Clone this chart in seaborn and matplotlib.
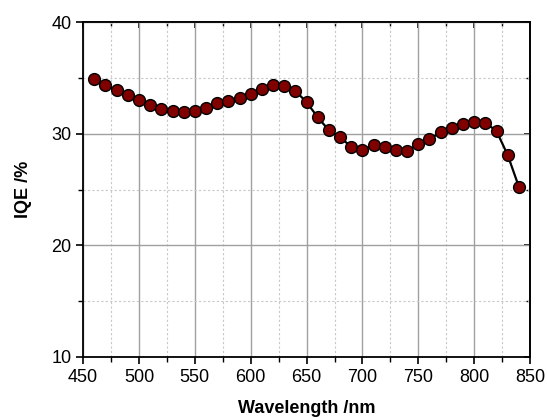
import matplotlib
matplotlib.use("Agg")
import matplotlib.pyplot as plt
import seaborn as sns
import pandas as pd
from matplotlib.ticker import MultipleLocator, NullFormatter

wavelength = [460, 470, 480, 490, 500, 510, 520, 530, 540, 550, 560, 570, 580, 590,
              600, 610, 620, 630, 640, 650, 660, 670, 680, 690, 700, 710, 720, 730,
              740, 750, 760, 770, 780, 790, 800, 810, 820, 830, 840]
iqe = [34.87, 34.33, 33.91, 33.5, 32.99, 32.54, 32.21, 32.03, 31.94, 32.03, 32.27,
       32.75, 32.9, 33.17, 33.55, 33.97, 34.33, 34.3, 33.85, 32.82, 31.48, 30.3,
       29.67, 28.84, 28.54, 29.02, 28.84, 28.54, 28.48, 29.05, 29.52, 30.12, 30.54,
       30.84, 31.08, 30.99, 30.24, 28.09, 25.25]

sns.set_style("white")
plt.rcParams['font.family'] = ['Liberation Sans', 'DejaVu Sans']
plt.rcParams['text.color'] = 'black'
plt.rcParams['axes.labelcolor'] = 'black'

df = pd.DataFrame({"Wavelength": wavelength, "IQE": iqe})

fig = plt.figure(figsize=(5.47, 4.18), dpi=100)
ax = fig.add_axes([0.152, 0.146, 0.817, 0.801])

sns.lineplot(data=df, x="Wavelength", y="IQE", ax=ax, color="black", linewidth=1.6,
             marker="o", markersize=8.5, markerfacecolor="#800000",
             markeredgecolor="black", markeredgewidth=1.0, zorder=3)

ax.set_xlim(450, 850)
ax.set_ylim(10, 40)
ax.xaxis.set_major_locator(MultipleLocator(50))
ax.xaxis.set_minor_locator(MultipleLocator(25))
ax.yaxis.set_major_locator(MultipleLocator(10))
ax.yaxis.set_minor_locator(MultipleLocator(5))

ax.grid(True, which="major", color="#a0a0a0", linestyle="-", linewidth=1.0)
ax.grid(True, which="minor", color="#c8c8c8", linestyle=(0, (2, 2)), linewidth=0.8)
ax.set_axisbelow(True)

for s in ax.spines.values():
    s.set_color("black")
    s.set_linewidth(1.3)

ax.tick_params(which="major", direction="out", length=5, width=1.2, labelsize=13,
               bottom=True, left=True, right=False, top=False,
               colors="black", labelcolor="black")
ax.tick_params(which="minor", direction="out", length=3.5, width=1.0,
               bottom=True, left=True, right=False, top=False, colors="black")

# mirrored inward ticks on top and right
top = ax.secondary_xaxis('top')
top.xaxis.set_major_locator(MultipleLocator(50))
top.xaxis.set_minor_locator(MultipleLocator(25))
top.xaxis.set_major_formatter(NullFormatter())
top.tick_params(which="major", direction="in", length=4, width=1.2, colors="black")
top.tick_params(which="minor", direction="in", length=3, width=1.0, colors="black")
top.spines['top'].set_linewidth(1.3)

right = ax.secondary_yaxis('right')
right.yaxis.set_major_locator(MultipleLocator(10))
right.yaxis.set_minor_locator(MultipleLocator(5))
right.yaxis.set_major_formatter(NullFormatter())
right.tick_params(which="major", direction="in", length=4, width=1.2, colors="black")
right.tick_params(which="minor", direction="in", length=3, width=1.0, colors="black")
right.spines['right'].set_linewidth(1.3)

ax.set_xlabel("Wavelength /nm", fontsize=13, fontweight="bold", labelpad=10)
ax.set_ylabel("IQE /%", fontsize=13, fontweight="bold", labelpad=14)

fig.savefig("out.png", dpi=100)
